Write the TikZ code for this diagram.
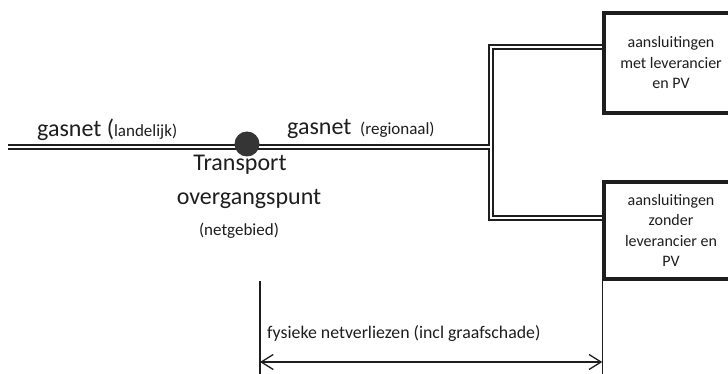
\documentclass[tikz,border=0pt]{standalone}
\usepackage{fontspec}
\setmainfont{Carlito}
\usetikzlibrary{arrows.meta}
\definecolor{ink}{HTML}{1E1E1E}
\tikzset{
  pipeout/.style={line width=5.6pt, draw=ink},
  pipein/.style={line width=1.8pt, draw=white},
  box/.style={draw=ink, line width=3.5pt, minimum width=134pt, inner sep=0pt, align=center, font=\fontsize{16}{20.5}\selectfont, text=ink},
  big/.style={font=\fontsize{24}{28}\selectfont, text=ink, inner sep=0pt},
  small/.style={font=\fontsize{17}{20}\selectfont, text=ink, inner sep=0pt},
  lbl/.style={font=\fontsize{17.8}{20}\selectfont, text=ink, inner sep=0pt},
  thin/.style={draw=ink, line width=1.3pt},
}
\begin{document}
\begin{tikzpicture}[x=1pt, y=-1pt]
\useasboundingbox (0,0) rectangle (728,374);
\clip (0,0) rectangle (728,374);
\fill[white] (0,0) rectangle (728,374);

% boxes
\node[box, minimum height=100pt] (b1) at (671,63) {aansluitingen\\met leverancier\\en PV};
\node[box, minimum height=97pt] (b2) at (671,230.5) {aansluitingen\\zonder\\leverancier en\\PV};

% pipe coordinates
\coordinate (start) at (8,147);
\coordinate (tee) at (491,147);
\coordinate (ctop) at (491,47);
\coordinate (cbot) at (491,218);
\coordinate (e1) at (b1.west |- ctop);
\coordinate (e2) at (b2.west |- cbot);

\draw[pipeout] (start) -- (tee);
\draw[pipeout] (e1) -- (ctop) -- (cbot) -- (e2);
\draw[pipein] (start) -- (tee);
\draw[pipein] (e1) -- (ctop) -- (cbot) -- (e2);

% transfer point
\node[circle, fill=ink!90, minimum size=25pt, inner sep=0pt] (tp) at (247,144) {};

% texts
\node[big, anchor=base west] (gl) at (37,137) {gasnet (\fontsize{17}{20}\selectfont landelijk)};
\node[big, anchor=base west] (gr) at (287,135) {gasnet};
\node[small, anchor=base west] (grs) at (360,135) {(regionaal)};
\node[big, anchor=base] (t1) at (240,171) {Transport};
\node[big, anchor=base] (t2) at (249,205) {overgangspunt};
\node[small, anchor=base] (t3) at (239,235) {(netgebied)};

% dimension lines
\coordinate (lt) at (260,281);
\coordinate (lb) at (260,374);
\coordinate (rb) at (b2.south west |- lb);
\draw[thin] (lt) -- (lb);
\draw[thin] (b2.south west) -- (rb);
\coordinate (la) at (260,362);
\coordinate (ra) at (b2.south west |- la);
\draw[thin, {Straight Barb[length=12pt,width=15pt,line width=1.3pt]}-{Straight Barb[length=12pt,width=15pt,line width=1.3pt]}] (la) -- (ra);
\node[lbl, anchor=base west] (dl) at (267,338) {fysieke netverliezen (incl graafschade)};
\end{tikzpicture}
\end{document}
